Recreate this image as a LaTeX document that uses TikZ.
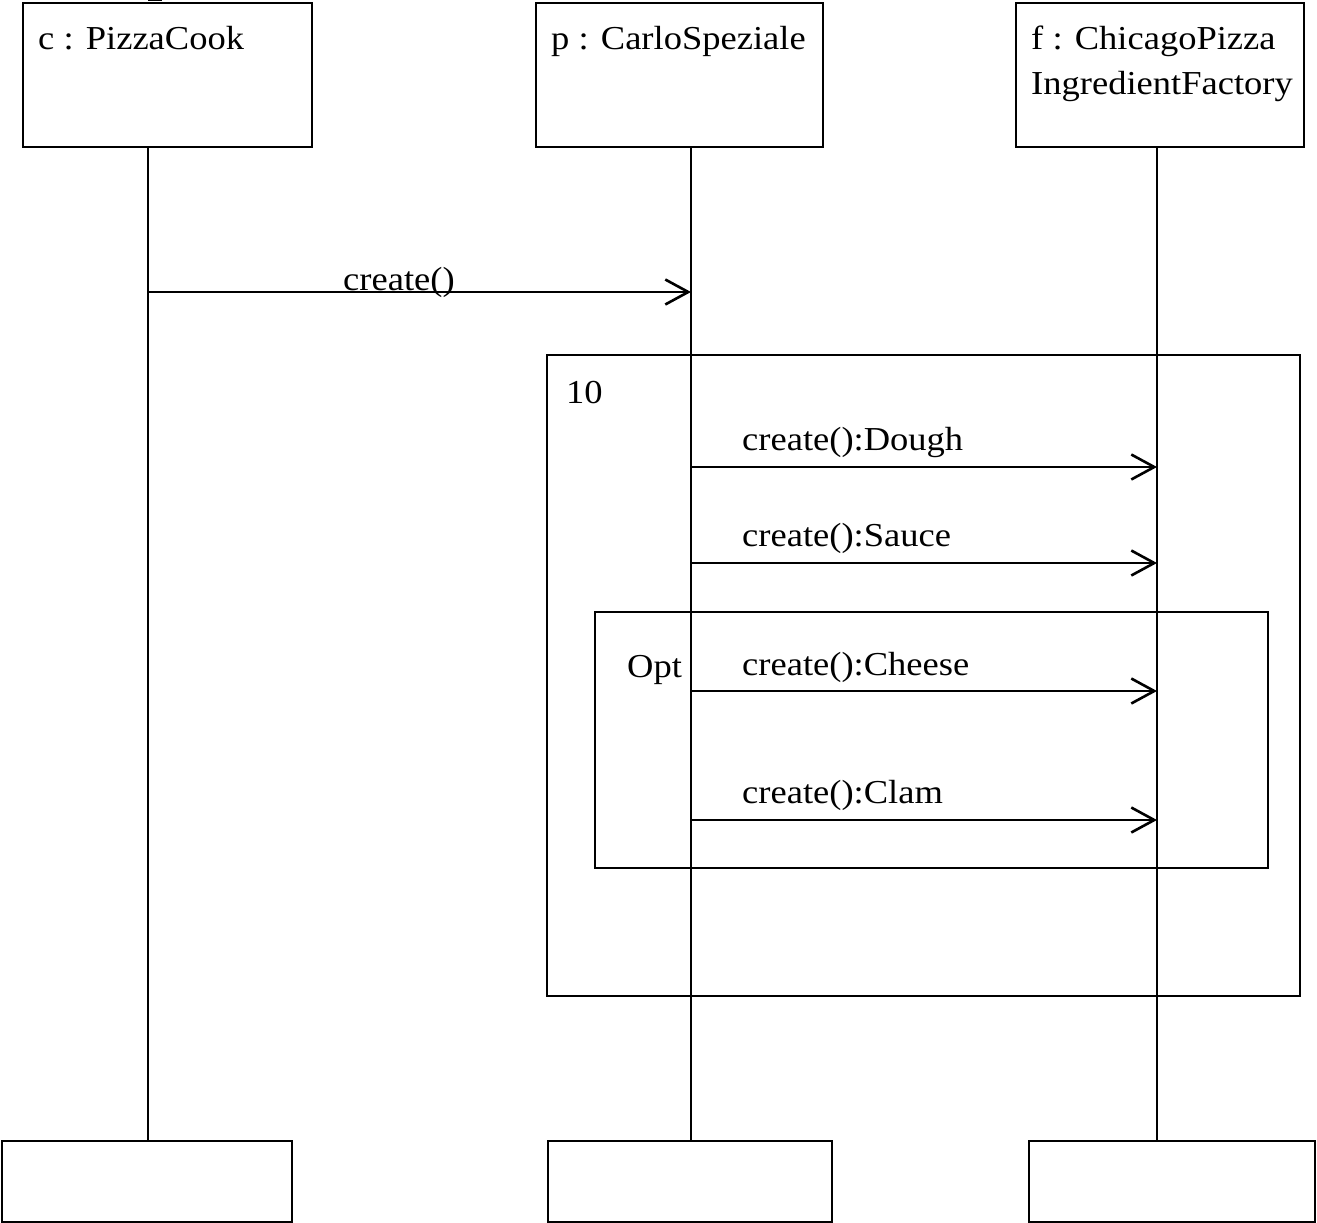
\documentclass[tikz,border=0pt]{standalone}
\usepackage{fontspec}
\setmainfont{Liberation Serif}
\usetikzlibrary{arrows.meta}
\begin{document}
\begin{tikzpicture}[x=1pt,y=-1pt,
  objbox/.style={draw,line width=1.8pt,minimum width=#1,anchor=north west,inner sep=0pt},
  objbox/.default=289pt,
  lbl/.style={anchor=base west,inner sep=0pt,xscale=1.09,font=\fontsize{33.5}{40}\selectfont},
  lifeline/.style={line width=1.6pt},
  frame/.style={line width=1.8pt},
  msg/.style={line width=2.6pt,-{Straight Barb[length=23pt,width=25pt,line width=2.6pt]}}]
\useasboundingbox (0,0) rectangle (1317,1223);

% head boxes
\node[objbox=289pt,minimum height=144pt] (cbox) at (22,2) {};
\node[objbox=287pt,minimum height=144pt] (pbox) at (535,2) {};
\node[objbox=288pt,minimum height=144pt] (fbox) at (1015,2) {};
\node[lbl] (ctxt) at (38,50) {c : PizzaCook};
\node[lbl] (ptxt) at (551,50) {p : CarloSpeziale};
\node[lbl] (ftxt) at (1031,50) {f : ChicagoPizza};
\node[lbl] (ftxt2) at (1031,95) {IngredientFactory};
\fill (148,0) rectangle (162,1.2);

% tail boxes
\node[objbox=290pt,minimum height=81pt] (cend) at (1,1140) {};
\node[objbox=284pt,minimum height=81pt] (pend) at (547,1140) {};
\node[objbox=286pt,minimum height=81pt] (fend) at (1028,1140) {};

% lifeline end points
\coordinate (ctop) at (148,146);
\coordinate (cbot) at (148,1140);
\coordinate (ptop) at (691,146);
\coordinate (pbot) at (691,1140);
\coordinate (ftop) at (1157,146);
\coordinate (fbot) at (1157,1140);
\draw[lifeline] (ctop) -- (cbot);
\draw[lifeline] (ptop) -- (pbot);
\draw[lifeline] (ftop) -- (fbot);

% combined fragments
\draw[frame] (547,355) rectangle (1300,996);
\node[lbl] (loopl) at (566,403) {10};
\draw[frame] (595,612) rectangle (1268,868);
\node[lbl] (optl) at (627,677) {Opt};

% messages
\coordinate (m0s) at (148,292);
\coordinate (m0e) at (691,292);
\draw[msg] (m0s) -- (m0e);
\node[lbl] (m0l) at (343,290) {create()};

\coordinate (m1s) at (691,467);
\coordinate (m1e) at (1157,467);
\draw[msg] (m1s) -- (m1e);
\node[lbl] (m1l) at (742,450) {create():Dough};

\coordinate (m2s) at (691,563);
\coordinate (m2e) at (1157,563);
\draw[msg] (m2s) -- (m2e);
\node[lbl] (m2l) at (742,546) {create():Sauce};

\coordinate (m3s) at (691,691);
\coordinate (m3e) at (1157,691);
\draw[msg] (m3s) -- (m3e);
\node[lbl] (m3l) at (742,675) {create():Cheese};

\coordinate (m4s) at (691,820);
\coordinate (m4e) at (1157,820);
\draw[msg] (m4s) -- (m4e);
\node[lbl] (m4l) at (742,803) {create():Clam};
\end{tikzpicture}
\end{document}
